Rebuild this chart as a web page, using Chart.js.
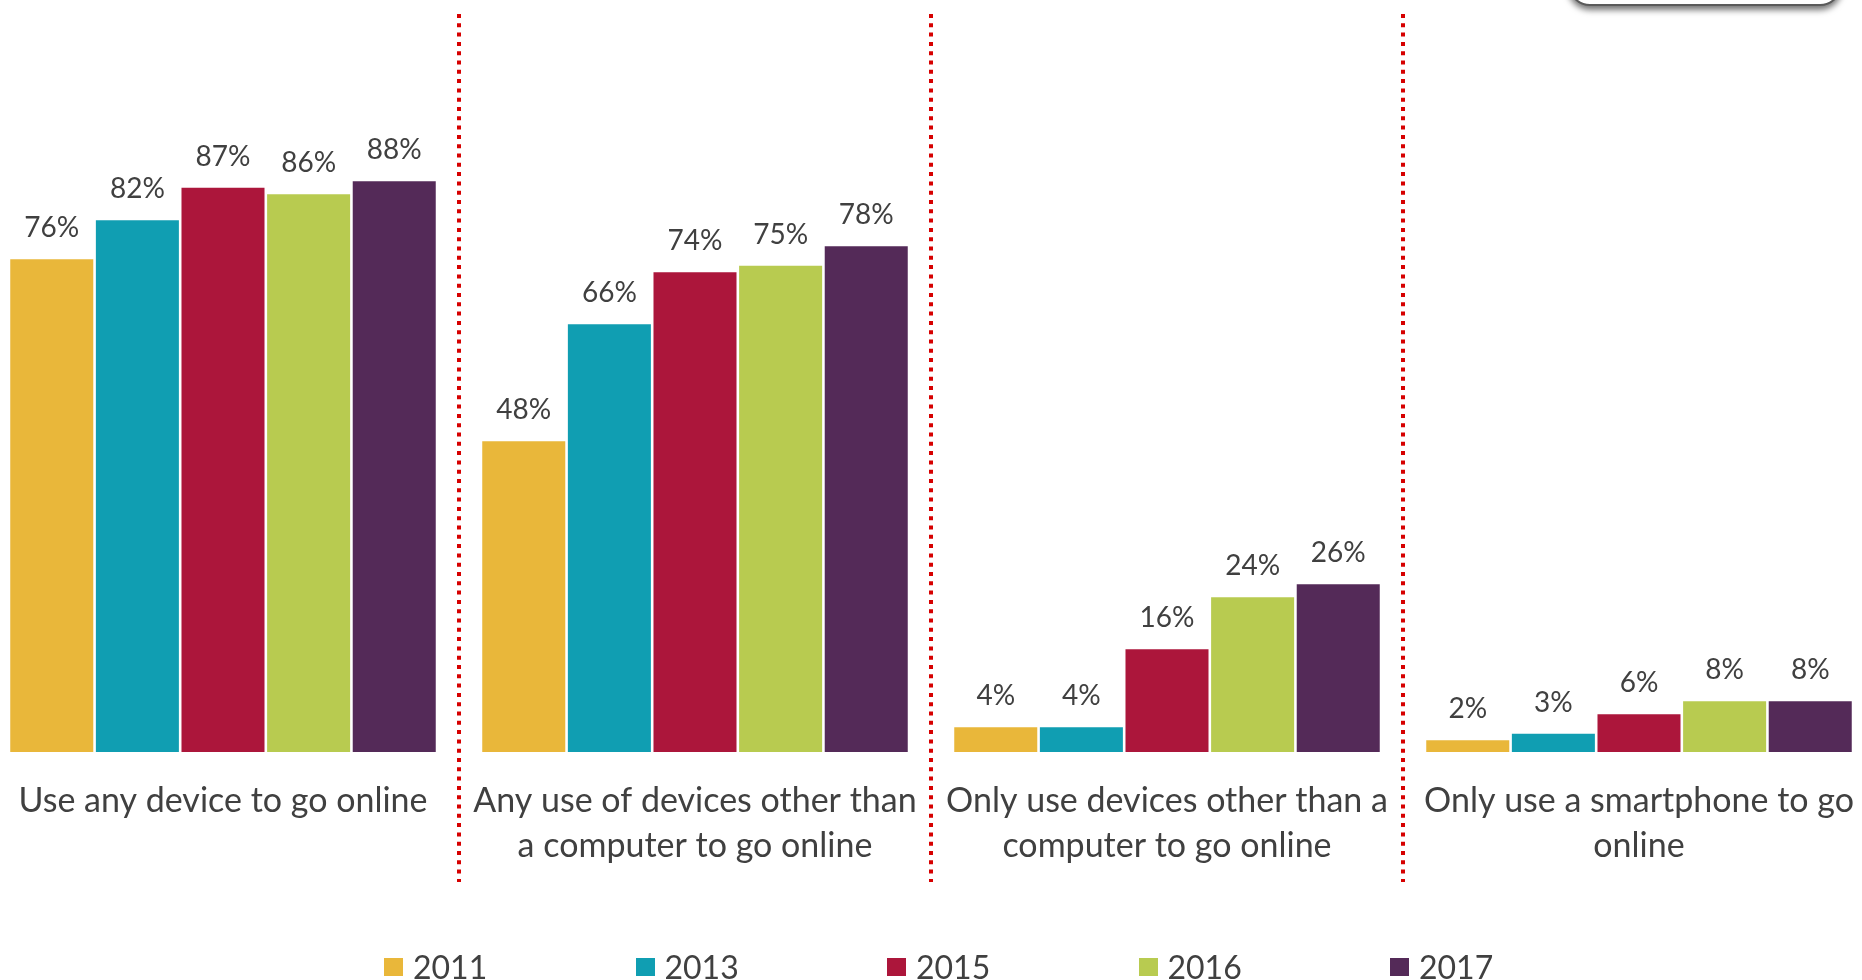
<!DOCTYPE html>
<html>
<head>
<meta charset="utf-8">
<script src="https://cdn.jsdelivr.net/npm/chart.js@4.4.1/dist/chart.umd.min.js"></script>
<style>
html, body { margin: 0; padding: 0; background: #fff; overflow: hidden; }
body { width: 1862px; height: 980px; position: relative; font-family: Lato, sans-serif; }
#wrap { position: absolute; left: -13px; top: 0; width: 1888px; height: 980px; }
#legend { position: absolute; left: 384px; top: 951px; display: flex; }
.item { width: 251.5px; display: flex; align-items: center; height: 32px; font-size: 32px; line-height: 32px; color: #404040; }
.item .box { width: 19px; height: 18px; margin-right: 10px; }
#badge { position: absolute; left: 1568px; top: -50px; width: 270px; height: 52px; border: 2px solid #5a5a5a; border-radius: 22px; box-shadow: 0 4px 6px rgba(0,0,0,0.55); background: #fff; }
</style>
</head>
<body>
<div id="wrap"><canvas id="chart"></canvas></div>
<div id="legend"></div>
<div id="badge"></div>
<script>
const categories = [
    'Use any device to go online',
    ['Any use of devices other than', 'a computer to go online'],
    ['Only use devices other than a', 'computer to go online'],
    ['Only use a smartphone to go', 'online']
];
const years = ['2011', '2013', '2015', '2016', '2017'];
const v2011 = [76, 48, 4, 2];
const v2013 = [82, 66, 4, 3];
const v2015 = [87, 74, 16, 6];
const v2016 = [86, 75, 24, 8];
const v2017 = [88, 78, 26, 8];
const colors = ['#E9B73A', '#109EB2', '#AC163B', '#B8CB50', '#542A58'];

const series = [v2011, v2013, v2015, v2016, v2017];

// percentage labels above each bar
const valueLabels = {
    id: 'valueLabels',
    afterDatasetsDraw(chart) {
        const ctx = chart.ctx;
        ctx.save();
        ctx.font = '28px Lato';
        ctx.fillStyle = '#404040';
        ctx.textAlign = 'center';
        ctx.textBaseline = 'alphabetic';
        chart.data.datasets.forEach((ds, i) => {
            chart.getDatasetMeta(i).data.forEach((bar, j) => {
                ctx.fillText(ds.data[j] + '%', bar.x, bar.y - 21);
            });
        });
        ctx.restore();
    }
};

// red dotted lines between the groups
const separators = {
    id: 'separators',
    afterDraw(chart) {
        const x = chart.scales.x;
        const ctx = chart.ctx;
        ctx.save();
        ctx.strokeStyle = '#d60000';
        ctx.lineWidth = 4;
        ctx.setLineDash([4, 5.3]);
        for (let i = 0; i < categories.length - 1; i++) {
            const px = (x.getPixelForTick(i) + x.getPixelForTick(i + 1)) / 2;
            ctx.beginPath();
            ctx.moveTo(px, 14);
            ctx.lineTo(px, 882);
            ctx.stroke();
        }
        ctx.restore();
    }
};

function buildLegend(chart) {
    const box = document.getElementById('legend');
    const items = Chart.defaults.plugins.legend.labels.generateLabels(chart);
    items.forEach(it => {
        const el = document.createElement('div');
        el.className = 'item';
        const sw = document.createElement('span');
        sw.className = 'box';
        sw.style.background = it.fillStyle;
        el.appendChild(sw);
        el.appendChild(document.createTextNode(it.text));
        box.appendChild(el);
    });
}

function draw() {
    Chart.defaults.font.family = 'Lato';
    Chart.defaults.color = '#404040';

    const chart = new Chart(document.getElementById('chart').getContext('2d'), {
        type: 'bar',
        data: {
            labels: categories,
            datasets: years.map((y, i) => ({
                label: y,
                data: series[i],
                backgroundColor: colors[i],
                borderColor: '#ffffff',
                borderWidth: 1.3,
                categoryPercentage: 0.907,
                barPercentage: 1.0
            }))
        },
        options: {
            responsive: true,
            maintainAspectRatio: false,
            animation: false,
            layout: { padding: { top: 0, bottom: 92, left: 0, right: 0 } },
            scales: {
                y: { display: false, min: 0, max: 115.7 },
                x: {
                    grid: { display: false },
                    border: { display: false },
                    ticks: {
                        autoSkip: false,
                        maxRotation: 0,
                        minRotation: 0,
                        padding: 19,
                        color: '#404040',
                        font: { size: 34, lineHeight: 45 / 34 }
                    }
                }
            },
            plugins: {
                legend: { display: false },
                tooltip: { enabled: false }
            }
        },
        plugins: [valueLabels, separators]
    });
    buildLegend(chart);
}

if (document.fonts && document.fonts.load) {
    Promise.all([document.fonts.load('34px Lato'), document.fonts.load('28px Lato')]).then(draw, draw);
} else {
    draw();
}
</script>
</body>
</html>
